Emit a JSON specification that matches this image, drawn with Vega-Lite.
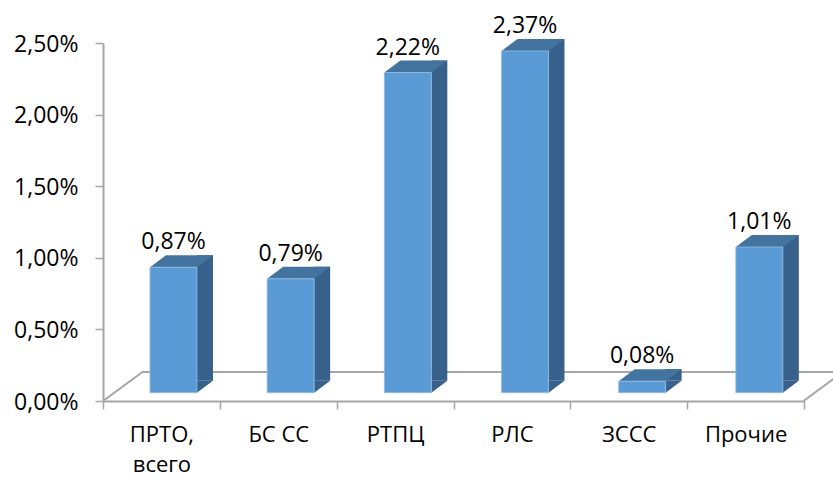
{
"$schema":"https://vega.github.io/schema/vega-lite/v6.json",
"width":701,"height":358,
"autosize":{"type":"none"},
"padding":{"left":103,"top":43,"right":29,"bottom":76},
"background":"white",
"view":{"stroke":null},
"data":{"values":[
{"category":"ПРТО, всего","value":0.87,"label":"0,87%"},
{"category":"БС СС","value":0.79,"label":"0,79%"},
{"category":"РТПЦ","value":2.22,"label":"2,22%"},
{"category":"РЛС","value":2.37,"label":"2,37%"},
{"category":"ЗССС","value":0.08,"label":"0,08%"},
{"category":"Прочие","value":1.01,"label":"1,01%"}
]},
"resolve":{"scale":{"x":"independent","y":"independent"},"axis":{"x":"independent","y":"independent"}},
"layer":[
{"transform":[{"filter":"datum.category == 'ПРТО, всего'"}],
 "mark":{"type":"point","shape":"M-58.4,0 L-18.9,-29 L720,-29 M642.1,0 L681.6,-29","size":4,"filled":false,"stroke":"#a6a6a6","strokeWidth":2,"opacity":1},
 "encoding":{
  "x":{"field":"category","type":"nominal","sort":null,
   "scale":{"domain":["ПРТО, всего","БС СС","РТПЦ","РЛС","ЗССС","Прочие"],"paddingInner":0,"paddingOuter":0},
   "axis":{"title":null,"labelAngle":0,"domainColor":"#a6a6a6","domainWidth":2,"tickColor":"#a6a6a6","tickWidth":1.5,"tickSize":8,"tickBand":"extent","labelFont":"Open Sans","labelFontSize":22,"labelColor":"#000000","labelPadding":15,"labelLineHeight":30,"labelExpr":"datum.label == 'ПРТО, всего' ? ['ПРТО,','всего'] : datum.label"}},
  "y":{"datum":0,"type":"quantitative",
   "scale":{"domain":[0,2.5]},
   "axis":{"title":null,"values":[0,0.5,1,1.5,2,2.5],"grid":false,"domainColor":"#a6a6a6","domainWidth":2,"tickColor":"#a6a6a6","tickWidth":1.5,"tickSize":8,"labelFont":"Open Sans","labelFontSize":23,"labelColor":"#000000","labelPadding":17,"labelOffset":1,"labelExpr":"replace(format(datum.value,'.2f'),'.',',')+'%'"}}
 }},
{"encoding":{
  "x":{"field":"category","type":"nominal","sort":null,"axis":null,
   "scale":{"domain":["ПРТО, всего","БС СС","РТПЦ","РЛС","ЗССС","Прочие"],"range":[11.9,714.9],"paddingInner":0,"paddingOuter":0}},
  "y":{"field":"value","type":"quantitative","axis":null,"scale":{"domain":[-0.0576,2.425],"nice":false,"zero":false}}
 },
 "layer":[
  {"mark":{"type":"bar","width":16,"xOffset":31.5,"yOffset":-12,"y2Offset":-12,"color":"#37618a"},
   "encoding":{"y2":{"datum":0}}},
  {"mark":{"type":"point","shape":"M23.5,-12 L39.5,-12 L23.5,0 Z","size":4,"filled":true,"fill":"#37618a","opacity":1,"strokeWidth":0},
   "encoding":{"y":{"datum":0,"type":"quantitative"}}},
  {"mark":{"type":"point","shape":"M-23.5,0 L23.5,0 L39.5,-12 L-7.5,-12 Z","size":4,"filled":true,"fill":"#42749f","opacity":1,"strokeWidth":0}},
  {"mark":{"type":"bar","width":47,"color":"#5b9bd5","stroke":"#8fbce6","strokeWidth":0.8},
   "encoding":{"y2":{"datum":0}}},
  {"mark":{"type":"text","font":"Open Sans","fontSize":23,"color":"#000000","baseline":"alphabetic","dy":-18},
   "encoding":{"text":{"field":"label","type":"nominal"}}}
 ]}
]
}
